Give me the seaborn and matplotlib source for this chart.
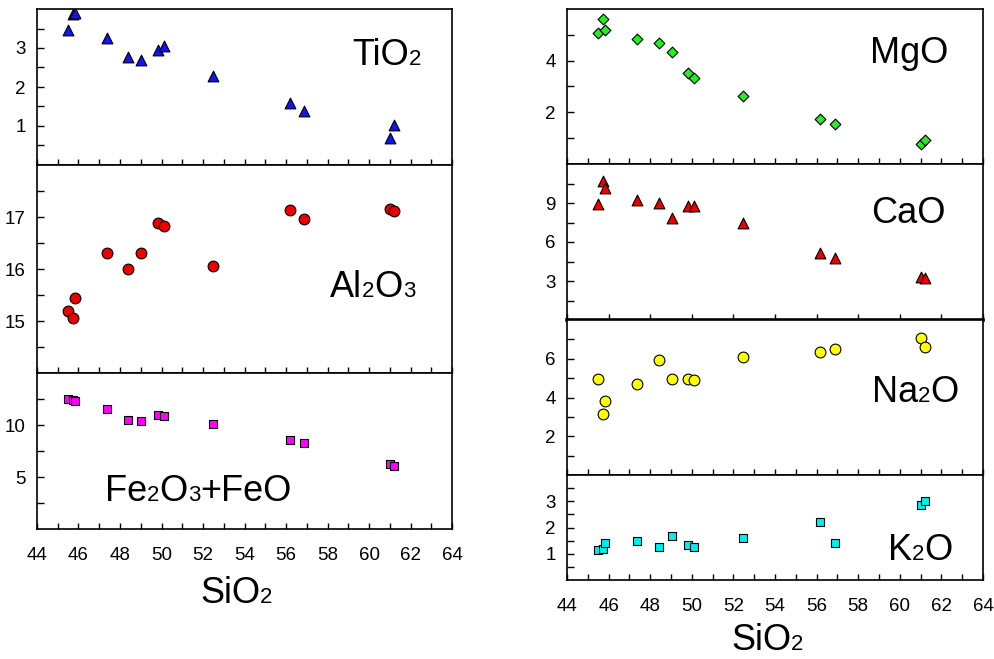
import matplotlib
matplotlib.use("Agg")
import matplotlib.pyplot as plt
from matplotlib.ticker import FixedLocator, NullLocator
import seaborn as sns

# === DATA (wt%) ===
sio2 = [45.5, 45.75, 45.85, 47.35, 48.4, 49.03, 49.83, 50.1, 52.47, 56.18, 56.88, 61.0, 61.2]
tio2 = [3.47, 3.88, 3.9, 3.26, 2.77, 2.69, 2.96, 3.04, 2.27, 1.60, 1.38, 0.70, 1.02]
al2o3 = [15.2, 15.05, 15.45, 16.31, 16.0, 16.31, 16.89, 16.83, 16.05, 17.13, 16.96, 17.16, 17.11]
fe2o3_feo = [12.5, 12.4, 12.35, 11.58, 10.52, 10.35, 10.94, 10.87, 10.1, 8.52, 8.23, 6.23, 6.1]
mgo = [5.07, 5.61, 5.17, 4.84, 4.68, 4.32, 3.52, 3.33, 2.65, 1.74, 1.56, 0.79, 0.92]
cao = [8.92, 10.73, 10.13, 9.26, 9.0, 7.81, 8.74, 8.74, 7.43, 5.19, 4.8, 3.3, 3.2]
na2o = [4.97, 3.14, 3.82, 4.68, 5.95, 4.97, 4.97, 4.88, 6.09, 6.34, 6.48, 7.08, 6.62]
k2o = [1.15, 1.19, 1.41, 1.47, 1.25, 1.66, 1.34, 1.25, 1.61, 2.2, 1.42, 2.84, 3.0]

x_ticks = [44, 46, 48, 50, 52, 54, 56, 58, 60, 62, 64]
x_minor = list(range(45, 64, 2))

# === STYLE ===
sns.set_style("white")
plt.rcParams["font.family"] = ["Liberation Sans", "DejaVu Sans"]
plt.rcParams["text.color"] = "black"
plt.rcParams["xtick.color"] = "black"
plt.rcParams["ytick.color"] = "black"

W, H = 994, 659
fig = plt.figure(figsize=(W / 100, H / 100), dpi=100)


def make_axes(x0, x1, y0, y1):
    return fig.add_axes([x0 / W, 1 - y1 / H, (x1 - x0) / W, (y1 - y0) / H])


def formula(ax, px, py, parts):
    # draw formula pieces on a common baseline, small digits for the indices
    yf = 1 - py / H
    prev = ax.text(px / W, yf, parts[0][0], fontsize=parts[0][1], color="black",
                   transform=fig.transFigure, va="baseline", ha="left")
    for txt, size in parts[1:]:
        prev = ax.annotate(txt, xy=(1, yf), xycoords=(prev, fig.transFigure),
                           fontsize=size, va="baseline", ha="left", color="black",
                           annotation_clip=False)


BIG, SMALL = 26, 16

# panel spec: y values, limits, ticks, marker, colour, size, box (x0, x1, y0, y1), label
panels = [
    (tio2, (0, 4), [1, 2, 3], [0.5, 1.5, 2.5, 3.5], "^", "#1414f0", 60,
     (37, 452, 9, 165), [("TiO", BIG), ("2", SMALL)], (352, 65)),
    (al2o3, (14, 18), [15, 16, 17], [14.5, 15.5, 16.5, 17.5], "o", "#ee0000", 60,
     (37, 452, 165, 373), [("Al", BIG), ("2", SMALL), ("O", BIG), ("3", SMALL)], (330, 297)),
    (fe2o3_feo, (0, 15), [5, 10], [2.5, 7.5, 12.5], "s", "#ff00ff", 40,
     (37, 452, 373, 529),
     [("Fe", BIG), ("2", SMALL), ("O", BIG), ("3", SMALL), ("+FeO", BIG)], (105, 501)),
    (mgo, (0, 6), [2, 4], [1, 3, 5], "D", "#22ee22", 30,
     (567, 983, 9, 164), [("MgO", BIG)], (870, 63)),
    (cao, (0, 12), [3, 6, 9], [1.5, 4.5, 7.5, 10.5], "^", "#ee0000", 60,
     (567, 983, 164, 320), [("CaO", BIG)], (871, 223)),
    (na2o, (0, 8), [2, 4, 6], [1, 3, 5, 7], "o", "#ffff00", 60,
     (567, 983, 320, 475), [("Na", BIG), ("2", SMALL), ("O", BIG)], (872, 402)),
    (k2o, (0, 4), [1, 2, 3], [0.5, 1.5, 2.5, 3.5], "s", "#00f0f0", 40,
     (567, 983, 475, 580), [("K", BIG), ("2", SMALL), ("O", BIG)], (888, 560)),
]

axes = []
for yvals, ylim, yt, ymin, mk, col, size, box, parts, pos in panels:
    ax = make_axes(*box)
    sns.scatterplot(x=sio2, y=yvals, ax=ax, marker=mk, color=col, s=size,
                    edgecolor="black", linewidth=0.8, zorder=3)
    ax.set_xlim(44, 64)
    ax.set_ylim(*ylim)
    ax.xaxis.set_major_locator(FixedLocator(x_ticks))
    ax.xaxis.set_minor_locator(FixedLocator(x_minor))
    ax.yaxis.set_major_locator(FixedLocator(yt))
    ax.yaxis.set_minor_locator(FixedLocator(ymin))
    ax.tick_params(axis="both", which="both", direction="in", color="black",
                   labelcolor="black", width=1, labelsize=13.5,
                   bottom=True, left=True, top=False, right=False)
    ax.tick_params(axis="y", which="both", length=5, pad=8)
    ax.tick_params(axis="x", which="both", length=4, pad=13)
    ax.tick_params(axis="x", labelbottom=False)
    for sp in ax.spines.values():
        sp.set_color("black")
        sp.set_linewidth(1.2)
    formula(ax, pos[0], pos[1], parts)
    axes.append(ax)

# bottom panels carry the SiO2 tick labels
for ax in (axes[2], axes[6]):
    ax.tick_params(axis="x", labelbottom=True)

# CaO panel: only major x ticks and a heavy lower frame
axes[4].xaxis.set_minor_locator(NullLocator())
axes[4].spines["bottom"].set_linewidth(2.6)
axes[4].spines["bottom"].set_zorder(5)

formula(axes[2], 200, 603, [("SiO", BIG), ("2", SMALL)])
formula(axes[6], 731, 650, [("SiO", BIG), ("2", SMALL)])

fig.savefig("out.png", dpi=100)
